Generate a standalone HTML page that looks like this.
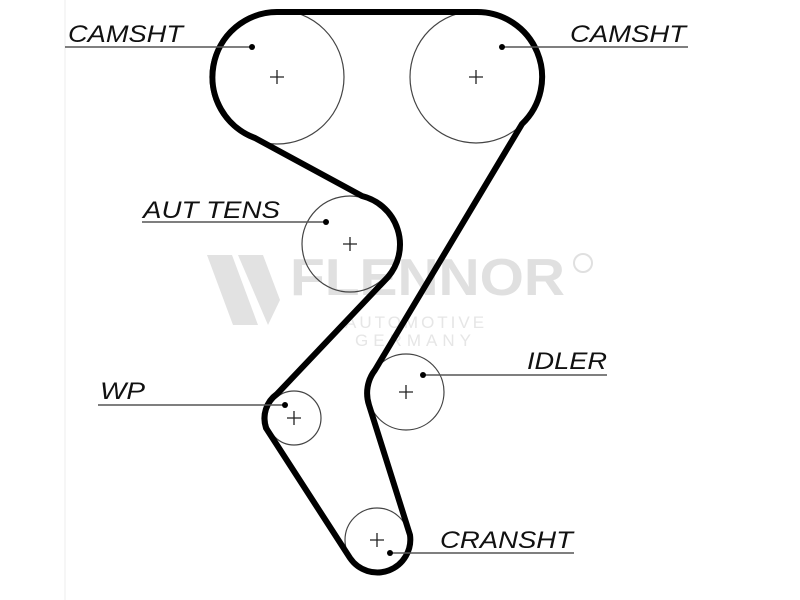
<!DOCTYPE html>
<html><head><style>
body{margin:0;background:#fff;}
svg{display:block}
text.l{font-family:"Liberation Sans",sans-serif;font-style:italic;font-size:24px;fill:#111}
</style></head><body>
<svg width="800" height="600" viewBox="0 0 800 600" xmlns="http://www.w3.org/2000/svg">
<rect width="800" height="600" fill="#fff"/>
<line x1="65" y1="0" x2="65" y2="600" stroke="#eee" stroke-width="1"/>
<!-- watermark -->
<g fill="#e2e2e2">
<polygon points="207,255 232,255 258,325 233,325"/>
<polygon points="238,255 263,255 280,300 268,325"/>
<text x="290" y="295" font-family="Liberation Sans,sans-serif" font-weight="bold" font-size="52" fill="#e0e0e0" textLength="275" lengthAdjust="spacingAndGlyphs">FLENNOR</text>
<text x="345" y="328" font-family="Liberation Sans,sans-serif" font-size="17" letter-spacing="3" fill="#e6e6e6">AUTOMOTIVE</text>
<text x="355" y="346" font-family="Liberation Sans,sans-serif" font-size="17" letter-spacing="5" fill="#e6e6e6">GERMANY</text>
<circle cx="583" cy="263" r="9" fill="none" stroke="#e0e0e0" stroke-width="2"/>
</g>
<!-- pulleys -->
<g fill="none" stroke="#444" stroke-width="1.2">
<circle cx="277" cy="77" r="67"/>
<circle cx="476" cy="77" r="66"/>
<circle cx="350" cy="244" r="48"/>
<circle cx="294" cy="418" r="27"/>
<circle cx="406" cy="392" r="38"/>
<circle cx="377" cy="540" r="32"/>
</g>
<g stroke="#222" stroke-width="1.3">
<path d="M270 77h14M277 70v14M469 77h14M476 70v14M343 244h14M350 237v14M287 418h14M294 411v14M399 392h14M406 385v14M370 540h14M377 533v14"/>
</g>
<!-- belt -->
<path d="M277 12 L476 12 A65 65 0 0 1 522 124 L375 370 A38 38 0 0 0 369 405 L410 535 A33 33 0 0 1 350 558 L266 428 A30 30 0 0 1 277 394 L388 277 A50 50 0 0 0 362 196 L255 138 A65 65 0 0 1 277 12 Z" fill="none" stroke="#000" stroke-width="6" stroke-linejoin="round"/>
<!-- leader lines -->
<g stroke="#555" stroke-width="1.5">
<line x1="65" y1="47" x2="252" y2="47"/>
<line x1="500" y1="47" x2="688" y2="47"/>
<line x1="142" y1="222" x2="325" y2="222"/>
<line x1="425" y1="375" x2="607" y2="375"/>
<line x1="98" y1="405" x2="285" y2="405"/>
<line x1="392" y1="553" x2="574" y2="553"/>
</g>
<g fill="#000">
<circle cx="252" cy="47" r="3"/><circle cx="502" cy="47" r="3"/>
<circle cx="326" cy="222" r="3"/><circle cx="423" cy="375" r="3"/>
<circle cx="285" cy="405" r="3"/><circle cx="390" cy="553" r="3"/>
</g>
<text class="l" x="68" y="42" textLength="115" lengthAdjust="spacingAndGlyphs">CAMSHT</text>
<text class="l" x="570" y="42" textLength="116" lengthAdjust="spacingAndGlyphs">CAMSHT</text>
<text class="l" x="143" y="218" textLength="137" lengthAdjust="spacingAndGlyphs">AUT TENS</text>
<text class="l" x="527" y="369" textLength="80" lengthAdjust="spacingAndGlyphs">IDLER</text>
<text class="l" x="100" y="399" textLength="45" lengthAdjust="spacingAndGlyphs">WP</text>
<text class="l" x="440" y="548" textLength="133" lengthAdjust="spacingAndGlyphs">CRANSHT</text>
</svg>
</body></html>
